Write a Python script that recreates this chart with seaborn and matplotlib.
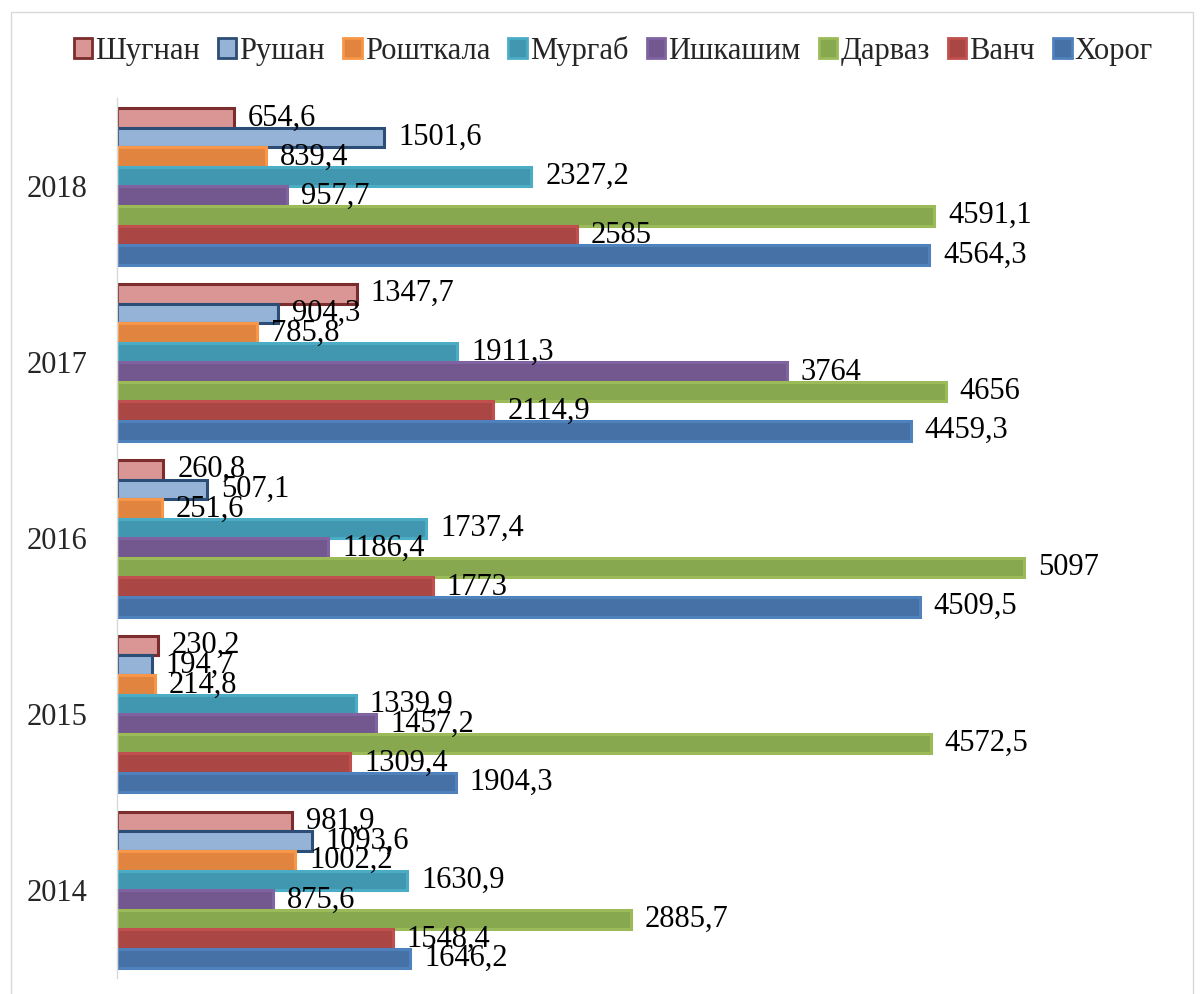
import pandas as pd
import seaborn as sns
import matplotlib.pyplot as plt
from matplotlib.patches import Rectangle

# Данные (читаются с графика)
years = ['2018', '2017', '2016', '2015', '2014']
regions = ['Шугнан', 'Рушан', 'Рошткала', 'Мургаб', 'Ишкашим', 'Дарваз', 'Ванч', 'Хорог']

shugnan = [654.6, 1347.7, 260.8, 230.2, 981.9]
rushan = [1501.6, 904.3, 507.1, 194.7, 1093.6]
roshtkala = [839.4, 785.8, 251.6, 214.8, 1002.2]
murgab = [2327.2, 1911.3, 1737.4, 1339.9, 1630.9]
ishkashim = [957.7, 3764, 1186.4, 1457.2, 875.6]
darvaz = [4591.1, 4656, 5097, 4572.5, 2885.7]
vanch = [2585, 2114.9, 1773, 1309.4, 1548.4]
khorog = [4564.3, 4459.3, 4509.5, 1904.3, 1646.2]

series = [shugnan, rushan, roshtkala, murgab, ishkashim, darvaz, vanch, khorog]

# colores: relleno y borde
face_colors = ['#D99694', '#95B3D7', '#E0843F', '#4197AF', '#72588F', '#88A84F', '#AA4644', '#4571A6']
edge_colors = ['#7B2C2C', '#2C4D75', '#F79646', '#4BACC6', '#8064A2', '#9BBB59', '#C0504D', '#4F81BD']

filas = []
for reg, vals in zip(regions, series):
    for yr, v in zip(years, vals):
        filas.append({'Год': yr, 'Район': reg, 'Значение': v})
df = pd.DataFrame(filas)

sns.set_theme(style='white')
plt.rcParams['font.family'] = ['Liberation Serif', 'DejaVu Serif']

fig = plt.figure(figsize=(12, 9.94), dpi=100)
ax = fig.add_axes([0.0975, 0.016, 0.89, 0.885])

sns.barplot(data=df, y='Год', x='Значение', hue='Район', order=years, hue_order=regions,
            orient='h', width=0.89, errorbar=None, legend=False, ax=ax)

for cont, fc, ec in zip(ax.containers, face_colors, edge_colors):
    for p in cont.patches:
        p.set_facecolor(fc)
        p.set_edgecolor(ec)
        p.set_linewidth(2.2)
    etiquetas = [f'{v:g}'.replace('.', ',') for v in cont.datavalues]
    ax.bar_label(cont, labels=etiquetas, padding=10, fontsize=22, color='black')

ax.set_xlim(0, 6000)
ax.set_ylim(4.5, -0.5)
ax.set_xlabel('')
ax.set_ylabel('')
ax.set_xticks([])
ax.tick_params(axis='y', labelsize=22, length=0, pad=21)
for s in ['top', 'right', 'bottom']:
    ax.spines[s].set_visible(False)
ax.spines['left'].set_color('#D9D9D9')
ax.spines['left'].set_linewidth(1)

handles = [Rectangle((0, 0), 1, 1, facecolor=fc, edgecolor=ec, linewidth=2)
           for fc, ec in zip(face_colors, edge_colors)]
fig.legend(handles, regions, loc='center', bbox_to_anchor=(0.511, 0.949), ncol=8,
           frameon=False, fontsize=22, handlelength=0.6, handleheight=0.6,
           handletextpad=0.1, columnspacing=0.6)

# marco exterior
fig.add_artist(Rectangle((0.009, -0.01), 0.985, 0.998, transform=fig.transFigure,
                         fill=False, edgecolor='#D9D9D9', linewidth=1))

plt.savefig('out.png', dpi=100)
